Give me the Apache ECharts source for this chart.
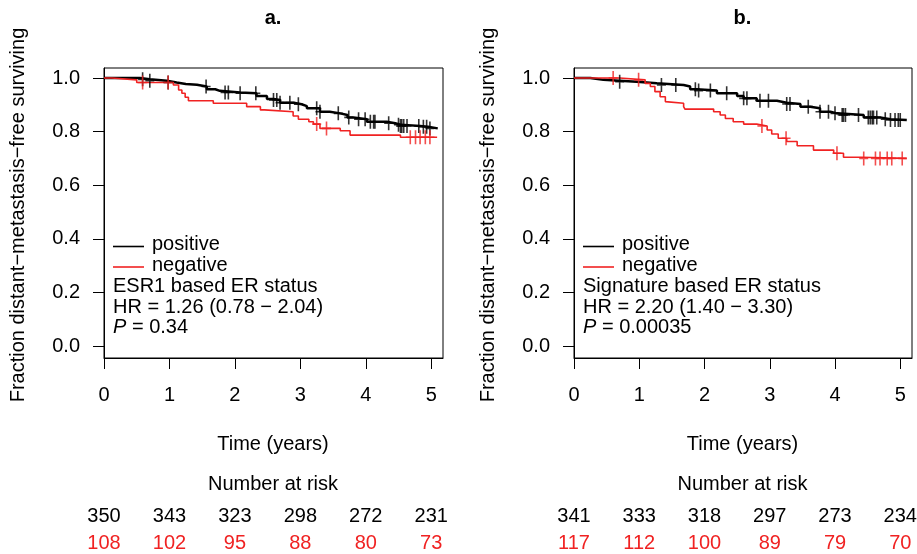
<!DOCTYPE html>
<html>
<head>
<meta charset="utf-8">
<script src="https://cdn.jsdelivr.net/npm/echarts@6/dist/echarts.min.js"></script>
<style>html,body{margin:0;padding:0;background:#fff}#c{width:917px;height:554px}</style>
</head>
<body>
<div id="c"></div>
<script>
// ---------- data ----------
const timeTicks = [0, 1, 2, 3, 4, 5];
const survTicks = [0, 0.2, 0.4, 0.6, 0.8, 1.0];

// Panel a: ESR1 based ER status  [time (years), survival]
const posA = [[0,1.0],[0.55,0.995],[0.70,0.99],[0.96,0.983],[1.11,0.978],[1.25,0.975],[1.42,0.968],[1.57,0.958],[1.70,0.952],[1.77,0.946],[2.08,0.943],[2.33,0.933],[2.49,0.922],[2.59,0.918],[2.69,0.908],[2.90,0.902],[3.02,0.895],[3.10,0.887],[3.30,0.874],[3.45,0.868],[3.61,0.862],[3.72,0.853],[3.81,0.846],[4.02,0.837],[4.32,0.831],[4.45,0.826],[4.53,0.821],[4.83,0.818],[4.95,0.812],[5.10,0.812]];
const negA = [[0,1.0],[0.12,0.993],[0.50,0.983],[1.06,0.974],[1.14,0.955],[1.19,0.943],[1.24,0.928],[1.29,0.915],[1.67,0.906],[2.18,0.893],[2.39,0.881],[2.45,0.874],[2.89,0.858],[2.97,0.846],[3.13,0.837],[3.20,0.828],[3.30,0.812],[3.61,0.803],[3.76,0.787],[4.53,0.779],[5.09,0.779]];
const censPosA = [0.59,0.70,0.98,1.56,1.85,1.90,2.08,2.32,2.59,2.64,2.69,2.84,2.97,3.25,3.30,3.58,3.74,3.89,3.99,4.07,4.12,4.14,4.35,4.50,4.53,4.55,4.58,4.63,4.81,4.88,4.93,4.98];
const censNegA = [0.59,0.98,3.25,3.40,4.68,4.76,4.83,4.91,4.98];
const riskPosA = [350, 343, 323, 298, 272, 231];
const riskNegA = [108, 102, 95, 88, 80, 73];

// Panel b: Signature based ER status
const posB = [[0,1.0],[0.25,0.993],[0.45,0.99],[0.70,0.986],[0.96,0.98],[1.27,0.974],[1.68,0.968],[1.78,0.958],[1.88,0.953],[2.19,0.943],[2.50,0.933],[2.60,0.924],[2.80,0.915],[3.11,0.908],[3.26,0.903],[3.47,0.893],[3.62,0.887],[3.77,0.874],[3.93,0.868],[4.03,0.862],[4.44,0.853],[4.69,0.846],[4.85,0.843],[5.10,0.843]];
const negB = [[0,1.0],[0.70,0.993],[1.09,0.98],[1.17,0.968],[1.24,0.949],[1.32,0.930],[1.40,0.912],[1.42,0.906],[1.68,0.893],[1.70,0.884],[2.14,0.874],[2.24,0.862],[2.32,0.849],[2.44,0.837],[2.60,0.828],[2.80,0.821],[2.96,0.806],[3.03,0.791],[3.13,0.775],[3.26,0.763],[3.42,0.747],[3.67,0.731],[3.98,0.719],[4.13,0.704],[4.40,0.700],[5.10,0.700]];
const censPosB = [0.70,1.34,1.56,1.86,1.91,2.09,2.34,2.60,2.65,2.85,2.98,3.26,3.31,3.59,3.77,3.90,4.00,4.11,4.13,4.16,4.36,4.51,4.54,4.57,4.59,4.64,4.77,4.85,4.92,4.97,5.00];
const censNegB = [0.60,0.99,2.88,3.25,4.03,4.44,4.62,4.69,4.80,4.87,5.03];
const riskPosB = [341, 333, 318, 297, 273, 234];
const riskNegB = [117, 112, 100, 89, 79, 70];

const panelTitles = ['a.', 'b.'];
const legendNames = ['positive', 'negative'];
const statusText = ['ESR1 based ER status', 'Signature based ER status'];
const hrText = ['HR = 1.26 (0.78 \u2212 2.04)', 'HR = 2.20 (1.40 \u2212 3.30)'];
const pText = ['0.34', '0.00035'];
const yTitle = 'Fraction distant\u2212metastasis\u2212free surviving';
const xTitle = 'Time (years)';
const riskTitle = 'Number at risk';

// ---------- chart ----------
const FONT = '"Liberation Sans", Arial, sans-serif';
const BLACK = '#000000';
const RED = '#f02222';
const PLUS = 'path://M3.7,0H5.3V6.2H9V7.8H5.3V14H3.7V7.8H0V6.2H3.7Z';

function survAt(curve, t) {
  let s = 1;
  for (const [tt, v] of curve) if (tt <= t) s = v;
  return s;
}

const chart = echarts.init(document.getElementById('c'), null, {renderer: 'canvas'});

const panels = [
  {left: 104, width: 339, pos: posA, neg: negA, cp: censPosA, cn: censNegA, rp: riskPosA, rn: riskNegA},
  {left: 574, width: 338, pos: posB, neg: negB, cp: censPosB, cn: censNegB, rp: riskPosB, rn: riskNegB}
];

const grid = [], xAxis = [], yAxis = [], series = [], graphic = [];
panels.forEach((p, i) => {
  grid.push({left: p.left, top: 68, width: p.width, height: 290, show: true, borderColor: BLACK, borderWidth: 1, backgroundColor: 'transparent', containLabel: false});
  xAxis.push({
    type: 'value', gridIndex: i, min: 0, max: 5.18,
    axisLine: {show: true, onZero: false, lineStyle: {color: BLACK, width: 1}},
    axisTick: {show: true, length: 11, customValues: timeTicks, lineStyle: {color: BLACK, width: 1}},
    axisLabel: {show: true, customValues: timeTicks, margin: 27, color: BLACK, fontFamily: FONT, fontSize: 20},
    splitLine: {show: false}
  });
  yAxis.push({
    type: 'value', gridIndex: i, min: -0.0448, max: 1.0373,
    axisLine: {show: true, onZero: false, lineStyle: {color: BLACK, width: 1}},
    axisTick: {show: true, length: 11, customValues: survTicks, lineStyle: {color: BLACK, width: 1}},
    axisLabel: {show: true, customValues: survTicks, margin: 24, color: BLACK, fontFamily: FONT, fontSize: 20, formatter: v => v.toFixed(1)},
    splitLine: {show: false}
  });
});
// risk table grids
panels.forEach((p, i) => {
  grid.push({left: p.left, top: 516, width: p.width, height: 27, show: false});
  xAxis.push({type: 'value', gridIndex: 2 + i, min: 0, max: 5.18, show: false});
  yAxis.push({type: 'value', gridIndex: 2 + i, min: 0, max: 1, show: false});
});

const riskLabel = (color) => ({show: true, position: 'inside', formatter: q => String(q.value[2]), color: color, opacity: 1,
  textBorderWidth: 0, textBorderColor: 'transparent', fontFamily: FONT, fontSize: 20});

panels.forEach((p, i) => {
  series.push({type: 'line', xAxisIndex: i, yAxisIndex: i, data: p.pos, step: 'end', symbol: 'none', lineStyle: {color: BLACK, width: 2.5}, itemStyle: {color: BLACK}, z: 3});
  series.push({type: 'line', xAxisIndex: i, yAxisIndex: i, data: p.neg, step: 'end', symbol: 'none', lineStyle: {color: RED, width: 1.6}, itemStyle: {color: RED}, z: 4});
  series.push({type: 'scatter', xAxisIndex: i, yAxisIndex: i, data: p.cp.map(t => [t, survAt(p.pos, t)]), symbol: PLUS, symbolSize: [9, 14], itemStyle: {color: BLACK}, z: 5});
  series.push({type: 'scatter', xAxisIndex: i, yAxisIndex: i, data: p.cn.map(t => [t, survAt(p.neg, t)]), symbol: PLUS, symbolSize: [9, 14], itemStyle: {color: RED}, z: 6});
  series.push({type: 'scatter', xAxisIndex: 2 + i, yAxisIndex: 2 + i, data: timeTicks.map((t, k) => [t, 1, p.rp[k]]), symbolSize: 1, itemStyle: {color: 'rgba(0,0,0,0)'},
    label: riskLabel(BLACK)});
  series.push({type: 'scatter', xAxisIndex: 2 + i, yAxisIndex: 2 + i, data: timeTicks.map((t, k) => [t, 0, p.rn[k]]), symbolSize: 1, itemStyle: {color: 'rgba(0,0,0,0)'},
    label: riskLabel(RED)});

  const cx = p.left + p.width / 2 - 0.5;
  const font = '20px ' + FONT;
  const txt = (text, x, y, extra) => Object.assign({type: 'text', x: x, y: y, silent: true,
    style: Object.assign({text: text, font: font, fill: BLACK, textAlign: 'left', align: 'left', textVerticalAlign: 'middle', verticalAlign: 'middle'}, extra || {})});
  // title
  graphic.push(txt(panelTitles[i], cx, 18, {font: 'bold 20px ' + FONT, textAlign: 'center', align: 'center'}));
  // axis titles
  graphic.push(txt(xTitle, cx, 444, {textAlign: 'center', align: 'center'}));
  graphic.push(txt(riskTitle, cx, 484, {textAlign: 'center', align: 'center'}));
  graphic.push(Object.assign(txt(yTitle, 0, 0, {textAlign: 'center', align: 'center'}), {x: p.left - 86, y: 215, rotation: Math.PI / 2}));
  // legend
  const lx = p.left + 9;
  graphic.push({type: 'line', silent: true, shape: {x1: lx, y1: 246.5, x2: lx + 31, y2: 246.5}, style: {stroke: BLACK, lineWidth: 1.6}});
  graphic.push({type: 'line', silent: true, shape: {x1: lx, y1: 267, x2: lx + 31, y2: 267}, style: {stroke: RED, lineWidth: 1.6}});
  graphic.push(txt(legendNames[0], lx + 39, 244));
  graphic.push(txt(legendNames[1], lx + 39, 265));
  graphic.push(txt(statusText[i], lx, 286));
  graphic.push(txt(hrText[i], lx, 307));
  graphic.push(txt('{i|P} = ' + pText[i], lx, 327, {rich: {i: {fontStyle: 'italic', fontFamily: FONT, fontSize: 20, fill: BLACK}}}));
});

chart.setOption({
  animation: false,
  backgroundColor: '#ffffff',
  grid: grid, xAxis: xAxis, yAxis: yAxis, series: series, graphic: graphic
});
</script>
</body>
</html>
